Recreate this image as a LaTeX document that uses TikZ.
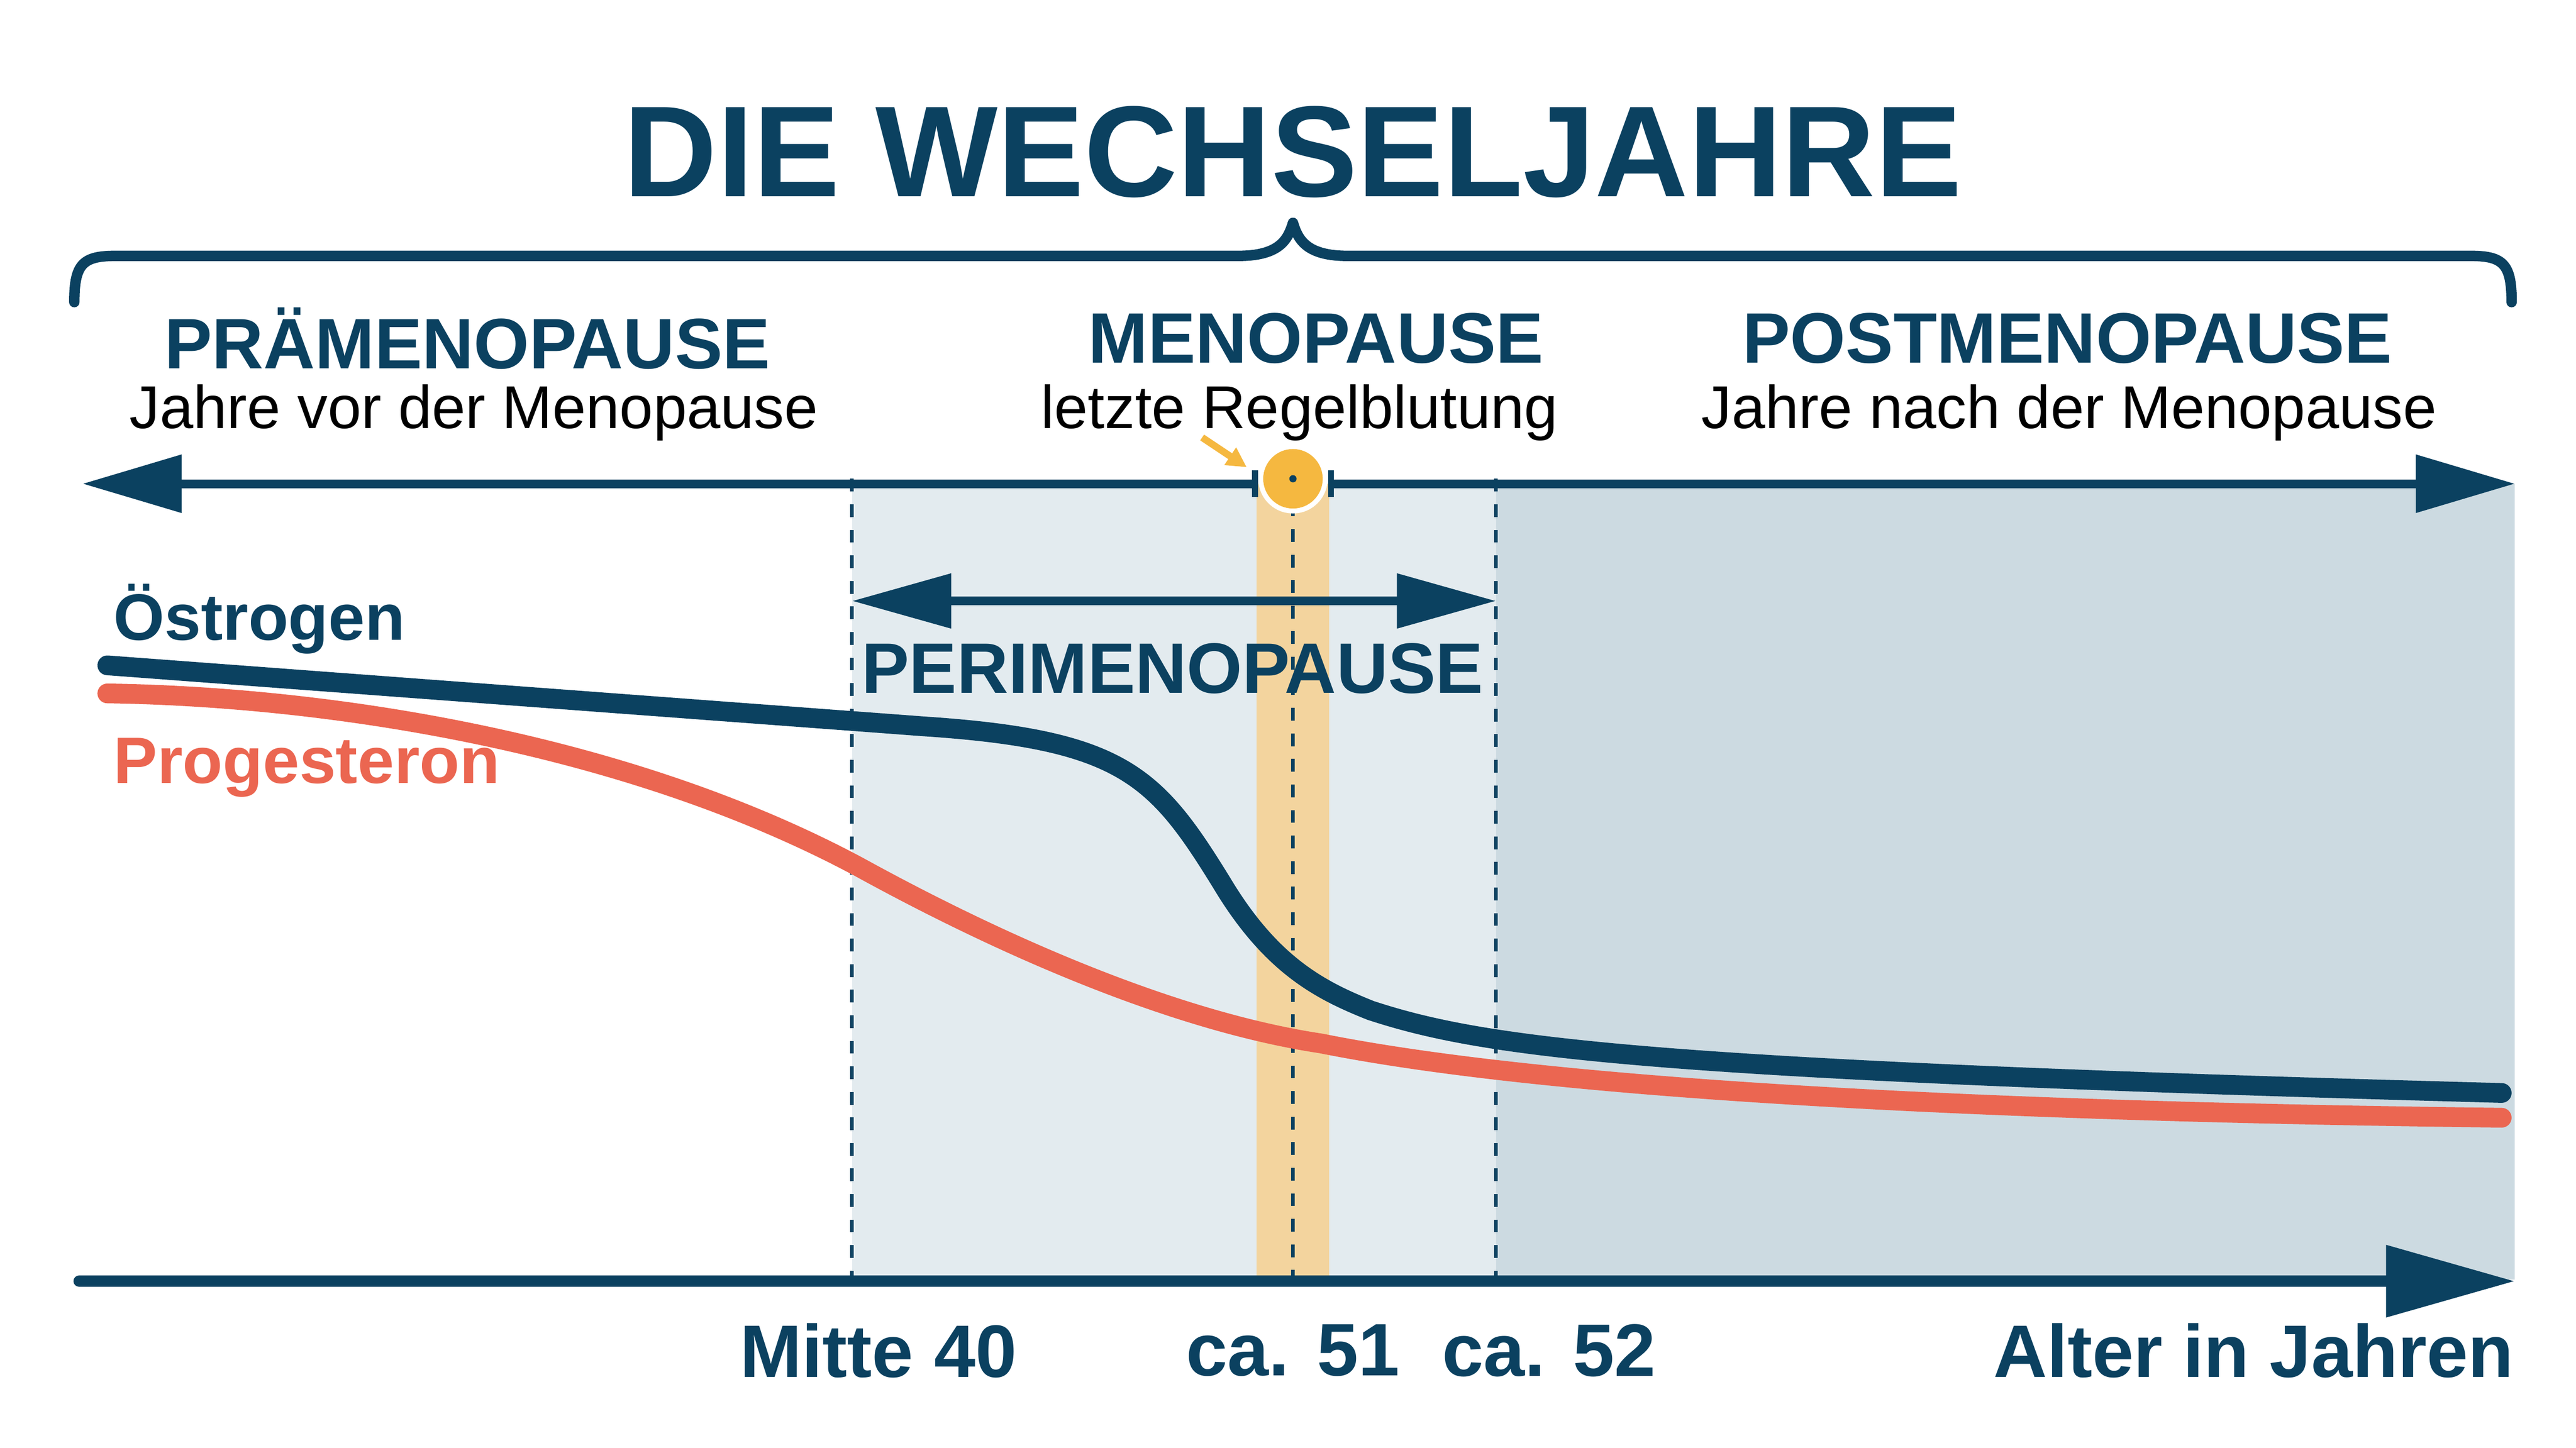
\documentclass[tikz,border=0pt]{standalone}
\usepackage{fontspec}
\setmainfont{Liberation Sans}
\usetikzlibrary{arrows.meta}
\definecolor{navy}{HTML}{0B4160}
\definecolor{coral}{HTML}{EB6651}
\definecolor{lightbg}{HTML}{E3EBEF}
\definecolor{darkbg}{HTML}{CCDAE1}
\definecolor{band}{HTML}{F3D49E}
\definecolor{sun}{HTML}{F5B840}
\tikzset{
  head/.style={font=\bfseries\fontsize{12.3}{14}\selectfont, text=navy, inner sep=0},
  sub/.style={font=\fontsize{10.4}{12}\selectfont, text=black, inner sep=0},
  axlab/.style={font=\bfseries\fontsize{12.8}{15}\selectfont, text=navy, inner sep=0},
  curvelab/.style={font=\bfseries\fontsize{11.3}{13}\selectfont, text=navy, inner sep=0, anchor=west},
  dash line/.style={navy, line width=0.6pt, dash pattern=on 2.2pt off 2.2pt},
  bigtip/.style={-{Triangle[length=0.6cm,width=0.34cm]}},
}
\begin{document}
\begin{tikzpicture}[x=0.01cm,y=-0.01cm]
\useasboundingbox (0,0) rectangle (1560,877);
% backgrounds
\fill[lightbg] (516,293) rectangle (906,775);
\fill[darkbg] (906,293) rectangle (1523,775);
\fill[band] (761,293) rectangle (805,775);
% dashed lines
\draw[dash line] (516,290) -- (516,775);
\draw[dash line] (906,290) -- (906,775);
\draw[dash line] (783,305) -- (783,775);
% title
\node[font=\bfseries\fontsize{22.3}{26}\selectfont, text=navy, inner sep=0] (title) at (783,92) {DIE WECHSELJAHRE};
% brace
\draw[navy, line width=1.8pt, line cap=round, line join=round]
  (45,183) .. controls (45,160) and (50,155) .. (70,155) -- (750,155)
  .. controls (775,155) and (780,145) .. (783,135)
  .. controls (786,145) and (791,155) .. (816,155) -- (1496,155)
  .. controls (1516,155) and (1521,160) .. (1521,183);
% headings
\node[head] (pre) at (283,205) {PRÄMENOPAUSE};
\node[sub] (presub) at (287,250) {Jahre vor der Menopause};
\node[head] (meno) at (797,205) {MENOPAUSE};
\node[sub] (menosub) at (787,250) {letzte Regelblutung};
\node[head] (post) at (1252,205) {POSTMENOPAUSE};
\node[sub] (postsub) at (1253,250) {Jahre nach der Menopause};
% top timeline
\coordinate (tl) at (50,293);
\coordinate (tr) at (1523,293);
\coordinate (g1) at (760,293);
\coordinate (g2) at (806,293);
\draw[navy, line width=1.5pt, {Triangle[length=0.6cm,width=0.34cm]}-] (tl) -- (g1);
\draw[navy, line width=1.5pt, bigtip] (g2) -- (tr);
\draw[navy, line width=1pt] (760,285) -- (760,301) (806,285) -- (806,301);
\fill[white] (783,290) circle (21);
\node[circle, fill=sun, minimum size=0.36cm, inner sep=0] (dot) at (783,290) {};
\fill[navy] (dot.center) circle (2.2);
\coordinate (ya) at (728,265);
\draw[sun, line width=1.2pt, -{Triangle[length=0.12cm,width=0.12cm]}] (ya) -- (755,283);
% perimenopause
\coordinate (p1) at (516,364);
\coordinate (p2) at (906,364);
\draw[navy, line width=1.5pt, {Triangle[length=0.6cm,width=0.32cm]}-{Triangle[length=0.6cm,width=0.32cm]}] (p1) -- (p2);
\node[head] (peri) at (710,405) {PERIMENOPAUSE};
% curves
\node[curvelab] (oest) at (68,375) {Östrogen};
\node[curvelab, text=coral] (prog) at (68,465) {Progesteron};
\draw[coral, line width=3.4pt, line cap=round]
  (65,420) .. controls (200,422) and (380,450) .. (520,525)
  .. controls (620,580) and (720,620) .. (800,632)
  .. controls (900,652) and (1100,672) .. (1515,677);
\draw[navy, line width=3.4pt, line cap=round]
  (65,403) -- (560,440) .. controls (680,448) and (700,470) .. (740,535)
  .. controls (770,585) and (800,600) .. (830,612)
  .. controls (900,635) and (1000,648) .. (1515,662);
% bottom axis
\coordinate (a1) at (48,776);
\coordinate (a2) at (1523,776);
\draw[navy, line width=2pt, line cap=round, -{Triangle[length=0.78cm,width=0.42cm]}] (a1) -- (a2);
\node[axlab] (m40) at (532,818) {Mitte 40};
\node[axlab] (c51) at (783,818) {ca. 51};
\node[axlab] (c52) at (938,818) {ca. 52};
\node[axlab, anchor=east] (alt) at (1523,818) {Alter in Jahren};
\end{tikzpicture}
\end{document}
